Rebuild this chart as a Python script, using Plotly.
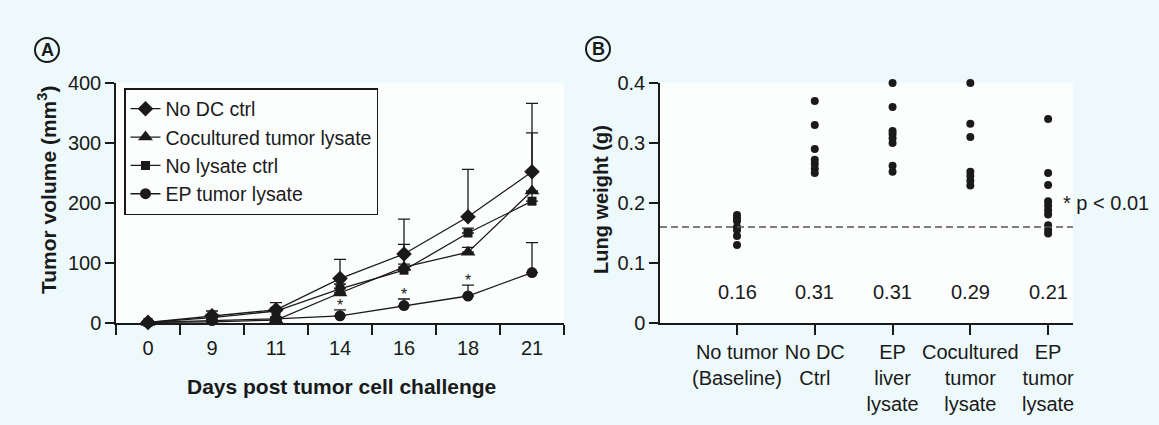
import plotly.graph_objects as go

# ---------------- Panel A data ----------------
days = ["0", "9", "11", "14", "16", "18", "21"]
no_dc_ctrl = [1, 12, 22, 74, 115, 177, 252]
no_dc_err = [2, 8, 12, 32, 58, 79, 114]
cocultured = [1, 2, 5, 50, 93, 118, 220]
cocultured_err = [1, 3, 4, 8, 38, 8, 97]
no_lysate_ctrl = [1, 9, 20, 57, 88, 150, 203]
no_lysate_err = [1, 3, 5, 8, 10, 8, 15]
ep_tumor = [1, 4, 7, 12, 29, 45, 84]
ep_tumor_err = [1, 2, 3, 10, 11, 18, 50]
signif_days = ["14", "16", "18"]

# ---------------- Panel B data ----------------
groups = ["notumor", "nodc", "epliver", "cocult", "eptumor"]
group_labels = ["No tumor<br>(Baseline)", "No DC<br>Ctrl", "EP<br>liver<br>lysate",
                "Cocultured<br>tumor<br>lysate", "EP<br>tumor<br>lysate"]
lung_notumor = [0.18, 0.175, 0.17, 0.16, 0.155, 0.145, 0.13]
lung_nodc = [0.37, 0.33, 0.29, 0.272, 0.265, 0.257, 0.25]
lung_epliver = [0.40, 0.36, 0.32, 0.315, 0.308, 0.30, 0.262, 0.252]
lung_cocult = [0.40, 0.332, 0.31, 0.252, 0.245, 0.237, 0.229]
lung_eptumor = [0.34, 0.25, 0.23, 0.203, 0.196, 0.188, 0.181, 0.163, 0.155, 0.149]
mean_labels = ["0.16", "0.31", "0.31", "0.29", "0.21"]
baseline = 0.16
p_text = "* p < 0.01"

W, H = 1159, 425
FONT = "Arial, Liberation Sans, Helvetica, sans-serif"
BLACK = "#1a1a1a"

def px_x(p):
    return p / W

def px_y(p):
    return (H - p) / H

fig = go.Figure()

series = [
    ("No DC ctrl", no_dc_ctrl, no_dc_err, "diamond", 12),
    ("Cocultured tumor lysate", cocultured, cocultured_err, "triangle-up", 13),
    ("No lysate ctrl", no_lysate_ctrl, no_lysate_err, "square", 9),
    ("EP tumor lysate", ep_tumor, ep_tumor_err, "circle", 11),
]
for name, vals, err, sym, size in series:
    fig.add_trace(go.Scatter(
        x=days, y=vals, name=name, mode="lines+markers",
        line=dict(color=BLACK, width=1.3),
        marker=dict(symbol=sym, size=size, color=BLACK),
        error_y=dict(type="data", symmetric=False, array=err,
                     arrayminus=[0] * len(err), color=BLACK,
                     thickness=1.3, width=6),
        cliponaxis=False, xaxis="x", yaxis="y",
    ))

lung_sets = [lung_notumor, lung_nodc, lung_epliver, lung_cocult, lung_eptumor]
for g, vals in zip(groups, lung_sets):
    fig.add_trace(go.Scatter(
        x=[g] * len(vals), y=vals, mode="markers",
        marker=dict(symbol="circle", size=8, color=BLACK),
        showlegend=False, cliponaxis=False, xaxis="x2", yaxis="y2",
    ))

annotations = []
# significance asterisks panel A (category index positions)
for d in signif_days:
    i = days.index(d)
    annotations.append(dict(x=i, y=ep_tumor[i] + ep_tumor_err[i], xref="x", yref="y",
                            text="*", showarrow=False, xanchor="center", yanchor="bottom",
                            yshift=-6, font=dict(size=16, color=BLACK, family=FONT)))
# mean labels panel B
for k, t in enumerate(mean_labels):
    annotations.append(dict(x=k, y=0.052, xref="x2", yref="y2", text=t,
                            xanchor="center", yanchor="middle",
                            showarrow=False, font=dict(size=20, color=BLACK, family=FONT)))
annotations.append(dict(x=0.972, y=0.2, xref="x2 domain", yref="y2", text=p_text,
                        xanchor="left", yanchor="middle", showarrow=False,
                        font=dict(size=20, color=BLACK, family=FONT)))
# axis titles
annotations.append(dict(x=px_x(341), y=px_y(386), xref="paper", yref="paper",
                        xanchor="center", yanchor="middle",
                        text="<b>Days post tumor cell challenge</b>", showarrow=False,
                        font=dict(size=21, color=BLACK, family=FONT)))
annotations.append(dict(x=px_x(47), y=px_y(190), xref="paper", yref="paper",
                        xanchor="center", yanchor="middle",
                        text="<b>Tumor volume (mm<sup>3</sup>)</b>", showarrow=False,
                        textangle=-90, font=dict(size=21, color=BLACK, family=FONT)))
annotations.append(dict(x=px_x(601), y=px_y(200), xref="paper", yref="paper",
                        xanchor="center", yanchor="middle",
                        text="<b>Lung weight (g)</b>", showarrow=False,
                        textangle=-90, font=dict(size=20, color=BLACK, family=FONT)))
# panel letters
shapes = []
for letter, cx, cy in [("A", 47, 50), ("B", 598, 49)]:
    r = 12
    shapes.append(dict(type="circle", xref="paper", yref="paper",
                       x0=px_x(cx - r), x1=px_x(cx + r), y0=px_y(cy + r), y1=px_y(cy - r),
                       line=dict(color=BLACK, width=2)))
    annotations.append(dict(x=px_x(cx), y=px_y(cy), xref="paper", yref="paper",
                            xanchor="center", yanchor="middle",
                            text="<b>%s</b>" % letter, showarrow=False,
                            font=dict(size=18, color=BLACK, family=FONT)))
# baseline dashed line
shapes.append(dict(type="line", xref="x2 domain", yref="y2", x0=0, x1=1,
                   y0=baseline, y1=baseline,
                   line=dict(color="#555555", width=1.6, dash="7px,4px")))

axis_common = dict(showline=True, linecolor=BLACK, linewidth=1.5, showgrid=False,
                   zeroline=False, ticks="outside", tickcolor=BLACK, tickwidth=1.5,
                   automargin=False,
                   tickfont=dict(size=20, color=BLACK, family=FONT))

fig.update_layout(
    width=W, height=H, autosize=False,
    margin=dict(l=0, r=0, t=0, b=0, pad=0, autoexpand=False),
    paper_bgcolor="#eef9fb",
    plot_bgcolor="#fcfefe",
    font=dict(family=FONT, color=BLACK),
    showlegend=True,
    legend=dict(x=px_x(124), y=px_y(88), xanchor="left", yanchor="top",
                bgcolor="rgba(255,255,255,0)", bordercolor=BLACK, borderwidth=1.5,
                font=dict(size=19.5, color=BLACK, family=FONT), tracegroupgap=0),
    xaxis=dict(domain=[px_x(116), px_x(564)], anchor="y", type="category",
               categoryorder="array", categoryarray=days, range=[-0.5, 6.5],
               tickson="boundaries", ticklen=10, ticklabelstandoff=6, **axis_common),
    yaxis=dict(domain=[px_y(323), px_y(83)], anchor="x", range=[0, 400],
               tickvals=[0, 100, 200, 300, 400], ticklen=9, **axis_common),
    xaxis2=dict(domain=[px_x(660), px_x(1073)], anchor="y2", type="category",
                categoryorder="array", categoryarray=groups, range=[-0.99, 4.32],
                tickvals=groups, ticktext=group_labels, ticklen=10, **axis_common),
    yaxis2=dict(domain=[px_y(323), px_y(83)], anchor="x2", range=[0, 0.4],
                tickvals=[0, 0.1, 0.2, 0.3, 0.4], ticktext=["0", "0.1", "0.2", "0.3", "0.4"],
                ticklen=9, **axis_common),
    annotations=annotations,
    shapes=shapes,
)

fig.write_html("out.html", config={"displayModeBar": False},
               post_script="document.body.style.margin='0px';")
